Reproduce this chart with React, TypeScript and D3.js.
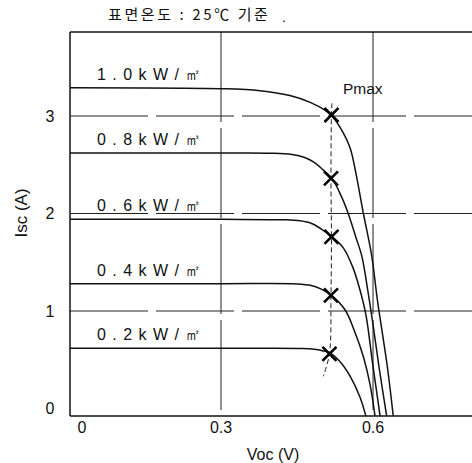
import React from 'react';
import * as d3 from 'd3';

// ---- data ----
const xTicks = [0, 0.3, 0.6];
const yTicks = [0, 1, 2, 3];
const xGridValues = [0.3, 0.6];
const yGridValues = [1, 2, 3];

const irradiance = ['1 . 0 k W / ㎡', '0 . 8 k W / ㎡', '0 . 6 k W / ㎡', '0 . 4 k W / ㎡', '0 . 2 k W / ㎡'];

// [Voc (V), Isc (A)]
const curve10: [number, number][] = [
  [0, 3.29], [0.3, 3.28], [0.377, 3.26], [0.436, 3.21], [0.476, 3.14], [0.505, 3.06], [0.519, 3.0],
  [0.541, 2.83], [0.555, 2.67], [0.566, 2.42], [0.581, 2.0], [0.597, 1.58],
  [0.609, 1.1], [0.62, 0.72], [0.629, 0.4], [0.64, -0.08],
];
const curve08: [number, number][] = [
  [0, 2.62], [0.3, 2.62], [0.4, 2.618], [0.44, 2.605], [0.465, 2.575], [0.484, 2.525], [0.501, 2.45],
  [0.519, 2.36], [0.538, 2.17], [0.551, 2.0], [0.566, 1.76], [0.578, 1.56],
  [0.59, 1.2], [0.6, 0.86], [0.612, 0.42], [0.627, -0.08],
];
const curve06: [number, number][] = [
  [0, 1.94], [0.3, 1.94], [0.42, 1.936], [0.456, 1.925], [0.48, 1.895], [0.501, 1.83], [0.519, 1.76],
  [0.541, 1.65], [0.56, 1.45], [0.574, 1.22], [0.586, 0.96], [0.599, 0.47], [0.614, -0.08],
];
const curve04: [number, number][] = [
  [0, 1.28], [0.3, 1.28], [0.45, 1.278], [0.478, 1.262], [0.498, 1.225], [0.518, 1.16], [0.545, 1.01],
  [0.563, 0.8], [0.581, 0.53], [0.594, 0.25], [0.604, -0.08],
];
const curve02: [number, number][] = [
  [0, 0.617], [0.3, 0.617], [0.46, 0.616], [0.484, 0.608], [0.5, 0.593], [0.515, 0.57], [0.535, 0.48],
  [0.555, 0.33], [0.574, 0.12], [0.586, -0.08],
];

const pmaxV = [0.518, 0.517, 0.518, 0.517, 0.514];
const pmaxI = [3.01, 2.36, 1.76, 1.16, 0.56];

const pmaxLocus: [number, number][] = [
  [0.519, 3.13], [0.518, 3.01], [0.517, 2.36], [0.518, 1.76], [0.517, 1.16],
  [0.514, 0.56], [0.502, 0.33],
];

const title = '표면온도 : 25℃ 기준';
const xTitle = 'Voc (V)';
const yTitle = 'Isc (A)';
const pmaxLabel = 'Pmax';

const series = [curve10, curve08, curve06, curve04, curve02].map((pts, i) => ({
  label: irradiance[i],
  points: pts,
}));

export default function App() {
  const W = 472, H = 463;
  const x = d3.scaleLinear().domain([0, 0.8]).range([69, 69 + 0.8 * 506.7]);
  const y = d3.scaleLinear().domain([0, 3]).range([408.5, 116]);
  const left = 70, top = 32, bottom = 416, right = 474;

  const line = d3.line<[number, number]>()
    .x(d => x(d[0]))
    .y(d => y(d[1]))
    .curve(d3.curveCatmullRom.alpha(0.5));

  const locus = d3.line<[number, number]>()
    .x(d => x(d[0]))
    .y(d => y(d[1]))
    .curve(d3.curveCatmullRom);

  const sans = '"Liberation Sans", Arial, sans-serif';
  const kr = '"Noto Sans CJK KR", sans-serif';

  return (
    <svg width={W} height={H} style={{ position: 'absolute', left: 0, top: 0, background: '#fff' }}>
      <rect x={0} y={0} width={W} height={H} fill="#fff" />
      <defs>
        <clipPath id="plot">
          <rect x={left} y={top} width={right - left} height={bottom - top} />
        </clipPath>
      </defs>

      {/* grid */}
      {yGridValues.map(v => (
        <line key={'gy' + v} x1={left} x2={right} y1={y(v)} y2={y(v)}
          stroke="#222" strokeWidth={1} strokeDasharray="78,8" />
      ))}
      {xGridValues.map(v => (
        <line key={'gx' + v} x1={x(v)} x2={x(v)} y1={top} y2={bottom}
          stroke="#222" strokeWidth={1} strokeDasharray="90,6" />
      ))}

      {/* frame */}
      <line x1={left} x2={right} y1={top} y2={top} stroke="#111" strokeWidth={1.5} />
      <line x1={left} x2={right} y1={bottom} y2={bottom} stroke="#111" strokeWidth={1.5} />
      <line x1={left} x2={left} y1={top} y2={bottom} stroke="#111" strokeWidth={1.5} />

      {/* curves */}
      <g clipPath="url(#plot)">
        {series.map(s => (
          <path key={s.label} d={line(s.points) || ''} fill="none" stroke="#111" strokeWidth={1.5} />
        ))}
        <path d={locus(pmaxLocus) || ''} fill="none" stroke="#222" strokeWidth={1} strokeDasharray="5,3" />
      </g>

      {/* Pmax markers */}
      {pmaxV.map((v, i) => {
        const cx = x(v), cy = y(pmaxI[i]), r = 7;
        return (
          <g key={'pm' + i} stroke="#000" strokeWidth={2.6}>
            <line x1={cx - r} y1={cy - r} x2={cx + r} y2={cy + r} />
            <line x1={cx - r} y1={cy + r} x2={cx + r} y2={cy - r} />
          </g>
        );
      })}

      {/* irradiance labels */}
      {series.map(s => (
        <text key={'l' + s.label} x={97} y={y(s.points[0][1]) - 8}
          fontFamily={sans} fontSize={16} letterSpacing={1} fill="#111">{s.label}</text>
      ))}

      <text x={343} y={94} fontFamily={sans} fontSize={15.5} fill="#111">{pmaxLabel}</text>

      {/* axes labels */}
      {yTicks.map(v => (
        <text key={'yt' + v} x={50} y={y(v)} dy="0.36em" textAnchor="middle"
          fontFamily={sans} fontSize={16} fill="#111">{v}</text>
      ))}
      {xTicks.map(v => (
        <text key={'xt' + v} x={x(v) + (v === 0 ? 13 : 0)} y={433} textAnchor="middle"
          fontFamily={sans} fontSize={16} fill="#111">{v}</text>
      ))}
      <text x={273} y={460} textAnchor="middle" fontFamily={sans} fontSize={16} fill="#111">{xTitle}</text>
      <text transform="translate(27,213) rotate(-90)" textAnchor="middle"
        fontFamily={sans} fontSize={17} fill="#111">{yTitle}</text>

      <text x={108} y={20} fontFamily={kr} fontSize={15} letterSpacing={2.6} fill="#111">{title}</text>
      <text x={282} y={22} fontFamily={sans} fontSize={14} fill="#111">.</text>
    </svg>
  );
}
